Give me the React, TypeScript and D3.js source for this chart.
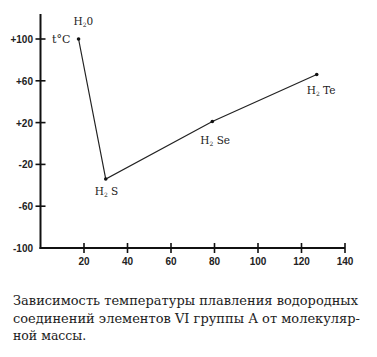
import React from "react";
import * as d3 from "d3";

const compounds = ["H2O", "H2S", "H2Se", "H2Te"];
const molarMass = [17.5, 30, 79, 127];
const meltTemp = [100, -34, 21, 66];
const xTicks = [20, 40, 60, 80, 100, 120, 140];
const yTicks = [100, 60, 20, -20, -60, -100];
const yTickLabels = ["+100", "+60", "+20", "-20", "-60", "-100"];
const captionLines = [
  "Зависимость температуры плавления водородных",
  "соединений элементов VI группы А от молекуляр-",
  "ной массы.",
];

const W = 377;
const H = 357;

export default function App() {
  const x = d3.scaleLinear().domain([0, 140]).range([40.5, 345]);
  const y = d3.scaleLinear().domain([-100, 100]).range([248, 39]);
  const pts = molarMass.map((m, i) => [x(m), y(meltTemp[i])] as [number, number]);
  const line = d3.line()(pts) || "";
  const sans = "Liberation Sans, Arial, sans-serif";
  const serif = "DejaVu Serif, serif";

  const labelOffsets: Record<string, [number, number]> = {
    H2O: [-5, -14],
    H2S: [-11, 16],
    H2Se: [-12, 22],
    H2Te: [-10, 19],
  };

  return (
    <svg width={W} height={H} style={{ position: "absolute", left: 0, top: 0, background: "#fff" }}>
      <rect width={W} height={H} fill="#fff" />
      <line x1={x(0)} x2={x(0)} y1={14} y2={y(-100) + 1} stroke="#111" strokeWidth={2} />
      <line x1={x(0) - 1} x2={x(140)} y1={y(-100)} y2={y(-100)} stroke="#111" strokeWidth={2} />
      {yTicks.map((t, i) => (
        <g key={"y" + t}>
          {t !== -100 && (
            <line x1={x(0) - 5} x2={x(0) + 5} y1={y(t)} y2={y(t)} stroke="#111" strokeWidth={1.6} />
          )}
          <text x={33} y={y(t) + 4} textAnchor="end" fontFamily={sans} fontSize={10} fontWeight="bold" fill="#222">
            {yTickLabels[i]}
          </text>
        </g>
      ))}
      {xTicks.map((t) => (
        <g key={"x" + t}>
          <line x1={x(t)} x2={x(t)} y1={y(-100) - 5} y2={y(-100) + 5} stroke="#111" strokeWidth={1.6} />
          <text x={x(t)} y={y(-100) + 17} textAnchor="middle" fontFamily={sans} fontSize={10} fontWeight="bold" fill="#222">
            {t}
          </text>
        </g>
      ))}
      <text x={52} y={y(100) + 4} fontFamily={serif} fontSize={11} fill="#222">
        t°C
      </text>
      <path d={line} fill="none" stroke="#222" strokeWidth={1.2} />
      {pts.map((p, i) => (
        <circle key={i} cx={p[0]} cy={p[1]} r={1.8} fill="#111" />
      ))}
      {compounds.map((c, i) => {
        const [dx, dy] = labelOffsets[c];
        const rest = c.slice(2);
        return (
          <text key={c} x={pts[i][0] + dx} y={pts[i][1] + dy} fontFamily={serif} fontSize={10.5} fill="#222">
            H
            <tspan fontSize={6} dy={2}>2</tspan>
            <tspan dy={-2}>{c === "H2O" ? "0" : " " + rest}</tspan>
          </text>
        );
      })}
      {captionLines.map((l, i) => (
        <text
          key={i}
          x={13}
          y={305 + i * 17.5}
          fontFamily={serif}
          fontSize={12.5}
          fill="#222"
          {...(i < 2 ? { textLength: i === 0 ? 345 : 347, lengthAdjust: "spacingAndGlyphs" } : {})}
        >
          {l}
        </text>
      ))}
    </svg>
  );
}
